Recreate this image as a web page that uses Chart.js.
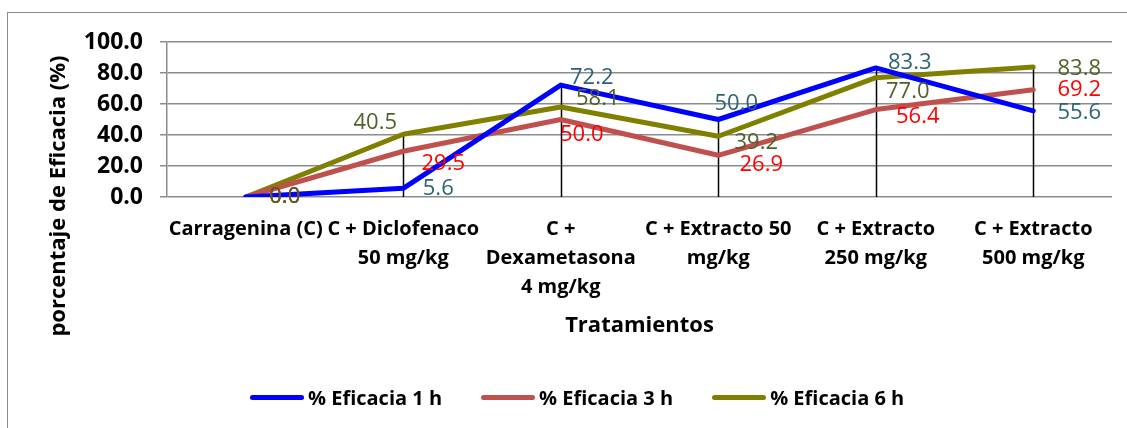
<!DOCTYPE html>
<html lang="es">
<head>
<meta charset="utf-8">
<title>Eficacia por tratamiento</title>
<script src="https://cdn.jsdelivr.net/npm/chart.js@4/dist/chart.umd.min.js"></script>
<style>
  html, body { margin: 0; padding: 0; background: #fff; overflow: hidden; }
  #wrap { position: relative; width: 1127px; height: 428px; }
  #frame { position: absolute; left: 7px; top: 12px; width: 1140px; height: 440px;
           border: 1.5px solid #8c8c8c; box-sizing: border-box; pointer-events: none; }
  #legend { position: absolute; left: 250px; top: 384px; display: flex; gap: 0;
            font: bold 20px "Open Sans", sans-serif; color: #000; }
  .item { display: flex; align-items: center; margin-right: 39px; }
  .swatch { width: 54px; height: 5px; border-radius: 3px; margin-right: 4px; }
</style>
</head>
<body>
<div id="wrap">
  <canvas id="c" width="1127" height="428"></canvas>
  <div id="frame"></div>
  <div id="legend"></div>
</div>
<script>
"use strict";

const CATEGORIES = [
  "Carragenina (C)",
  ["C + Diclofenaco", "50 mg/kg"],
  ["C +", "Dexametasona", "4 mg/kg"],
  ["C + Extracto 50", "mg/kg"],
  ["C + Extracto", "250 mg/kg"],
  ["C + Extracto", "500 mg/kg"],
];
const EFICACIA_1H = [0.0, 5.6, 72.2, 50.0, 83.3, 55.6];
const EFICACIA_3H = [0.0, 29.5, 50.0, 26.9, 56.4, 69.2];
const EFICACIA_6H = [0.0, 40.5, 58.1, 39.2, 77.0, 83.8];
const Y_TICKS = [0, 20, 40, 60, 80, 100];

const COLORS = {
  h1: "#0000ff", h3: "#c0504d", h6: "#808000",
  lab1: "#2c6473", lab3: "#ff0000", lab6: "#4f6228",
  grid: "#8c8c8c",
};

// label nudges (px) relative to each point
const LABEL_NUDGE = [
  [[39, 0], [35, 0], [31, -7], [18, -16], [34, -5], [46, 2]],
  [[39, 0], [40, 12], [21, 15], [43, 9], [42, 7], [46, 0]],
  [[39, 0], [-28, -11], [37, -8], [38, 6], [32, 14], [46, 2]],
];

function line(label, data, color, labelColor) {
  return { label, data, borderColor: color, backgroundColor: color, borderWidth: 5,
           pointRadius: 0, tension: 0, borderCapStyle: "round", borderJoinStyle: "round",
           labelColor };
}

// black drop lines from the highest point of each category to the axis
const dropLines = {
  id: "dropLines",
  beforeDatasetsDraw(chart) {
    const { ctx, scales: { x, y } } = chart;
    const sets = chart.data.datasets;
    ctx.save();
    ctx.strokeStyle = "#000";
    ctx.lineWidth = 1.5;
    CATEGORIES.forEach((_, i) => {
      const top = Math.max(...sets.map((d) => d.data[i]));
      if (top <= 0) return;
      const px = Math.round(x.getPixelForValue(i)) + 0.5;
      ctx.beginPath();
      ctx.moveTo(px, y.getPixelForValue(top));
      ctx.lineTo(px, y.getPixelForValue(0));
      ctx.stroke();
    });
    ctx.restore();
  },
};

const valueLabels = {
  id: "valueLabels",
  afterDatasetsDraw(chart) {
    const { ctx } = chart;
    ctx.save();
    ctx.font = '22px "Open Sans", sans-serif';
    ctx.textAlign = "center";
    ctx.textBaseline = "middle";
    chart.data.datasets.forEach((ds, di) => {
      chart.getDatasetMeta(di).data.forEach((pt, i) => {
        const [dx, dy] = LABEL_NUDGE[di][i];
        ctx.fillStyle = ds.labelColor;
        ctx.fillText(ds.data[i].toFixed(1), pt.x + dx, pt.y + dy);
      });
    });
    ctx.restore();
  },
};

// y title is centred on the whole chart height in the original
const yTitle = {
  id: "yTitle",
  afterDraw(chart) {
    const { ctx } = chart;
    ctx.save();
    ctx.translate(59, 196);
    ctx.rotate(-Math.PI / 2);
    ctx.font = 'bold 22px "Open Sans", sans-serif';
    ctx.fillStyle = "#000";
    ctx.textAlign = "center";
    ctx.textBaseline = "middle";
    ctx.fillText("porcentaje de Eficacia (%)", 0, 0);
    ctx.restore();
  },
};

const chart = new Chart(document.getElementById("c"), {
  type: "line",
  data: {
    labels: CATEGORIES,
    datasets: [
      line("% Eficacia 1 h", EFICACIA_1H, COLORS.h1, COLORS.lab1),
      line("% Eficacia 3 h", EFICACIA_3H, COLORS.h3, COLORS.lab3),
      line("% Eficacia 6 h", EFICACIA_6H, COLORS.h6, COLORS.lab6),
    ],
  },
  options: {
    responsive: false,
    animation: false,
    layout: { padding: { top: 42, right: 15, left: 0, bottom: 0 } },
    plugins: { legend: { display: false }, tooltip: { enabled: false } },
    scales: {
      x: {
        offset: true,
        grid: { display: false },
        border: { display: false },
        ticks: { color: "#000", padding: 10, maxRotation: 0, autoSkip: false,
                 font: { family: "Open Sans", weight: "bold", size: 20, lineHeight: 1.45 } },
        title: { display: true, text: "Tratamientos", color: "#000",
                 font: { family: "Open Sans", weight: "bold", size: 22 },
                 padding: { top: 0, bottom: 89 } },
        afterFit: (s) => { s.height = 231; },
      },
      y: {
        min: 0, max: 100,
        afterBuildTicks: (s) => { s.ticks = Y_TICKS.map((v) => ({ value: v })); },
        grid: { color: COLORS.grid, lineWidth: 1.5, tickLength: 7 },
        border: { display: true, color: COLORS.grid, width: 1.5 },
        ticks: { color: "#000", padding: 17, callback: (v) => Number(v).toFixed(1),
                 font: { family: "Open Sans", weight: "bold", size: 23 } },
        afterFit: (s) => { s.width = 167; },
      },
    },
  },
  plugins: [dropLines, valueLabels, yTitle],
});

const legend = document.getElementById("legend");
chart.data.datasets.forEach((ds) => {
  const item = document.createElement("div");
  item.className = "item";
  item.innerHTML = `<span class="swatch" style="background:${ds.borderColor}"></span>${ds.label}`;
  legend.appendChild(item);
});
</script>
</body>
</html>
